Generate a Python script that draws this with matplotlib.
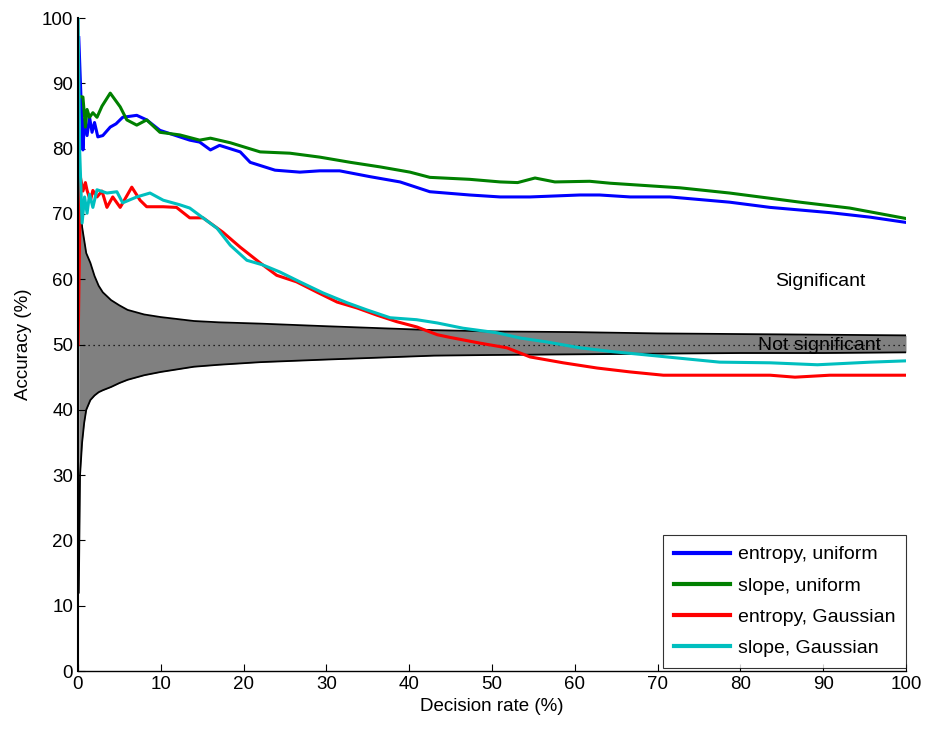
import numpy as np
import matplotlib
matplotlib.use("Agg")
import matplotlib.pyplot as plt

plt.rcParams['font.family'] = ['Liberation Sans', 'DejaVu Sans']

# significance band
band_x = [0.1, 0.25, 0.5, 0.75, 1.0, 1.5, 2.0, 2.5, 3.0, 4.0, 5.0, 6.0, 8.0, 10, 12, 14, 17, 22, 30, 43, 50, 60, 70, 80, 90, 100]
band_hi = [88, 72, 68, 66, 64, 62.5, 60.5, 59, 58, 56.8, 56, 55.3, 54.6, 54.2, 53.9, 53.6, 53.4, 53.2, 52.8, 52.2, 52.0, 51.9,
           51.7, 51.6, 51.5, 51.4]
band_lo = [12, 30, 35, 38, 40, 41.5, 42.2, 42.7, 43.0, 43.5, 44.1, 44.6, 45.3, 45.8, 46.2, 46.6, 46.9, 47.3, 47.7, 48.3, 48.4,
           48.5, 48.6, 48.7, 48.7, 48.8]

# entropy, uniform
ent_uni_x = [0.1, 0.3, 0.6, 0.8, 1.1, 1.4, 1.7, 2.0, 2.4, 3.0, 3.9, 4.6, 5.4, 7.1, 8.3, 9.9, 12.3, 13.5, 14.7, 16.0, 17.1,
             19.6, 20.8, 23.8, 26.8, 29.2, 31.6, 35.3, 38.9, 42.5, 47.3, 51, 54.6, 60.6, 63, 66.7, 71.5, 78.7, 83.6, 90.8, 95.7, 100]
ent_uni_y = [97, 90, 79.8, 84.5, 82, 84.8, 82.5, 84, 81.8, 82, 83.3, 83.8, 84.8, 85.1, 84.4, 82.8, 81.8, 81.3, 81, 79.8, 80.5,
             79.5, 77.9, 76.7, 76.4, 76.6, 76.6, 75.7, 74.9, 73.4, 72.9, 72.6, 72.6, 72.9, 72.9, 72.6, 72.6, 71.8, 71.0, 70.2, 69.5, 68.7]

# slope, uniform
slo_uni_x = [0.2, 0.6, 0.9, 1.1, 1.4, 1.8, 2.3, 2.9, 3.9, 5.1, 5.9, 7.1, 8.3, 9.9, 12.3, 14.7, 16.0, 18.4, 22, 25.6,
             29.2, 32.9, 36.5, 40.1, 42.5, 47.3, 51, 53.1, 55.2, 57.6, 61.8, 64.3, 67.9, 72.7, 78.7, 87.2, 93.2, 100]
slo_uni_y = [88, 87.9, 83.3, 86, 84.8, 85.5, 84.8, 86.5, 88.5, 86.4, 84.4, 83.6, 84.4, 82.5, 82.1, 81.3, 81.6, 80.9, 79.5, 79.3,
             78.7, 77.9, 77.2, 76.4, 75.6, 75.3, 74.9, 74.8, 75.5, 74.9, 75.0, 74.7, 74.4, 74.0, 73.2, 71.8, 70.9, 69.3]

# entropy, Gaussian
ent_gau_x = [0.02, 0.3, 0.6, 0.9, 1.1, 1.5, 1.8, 2.3, 2.9, 3.5, 4.2, 5.1, 6.5, 7.5, 8.3, 10.3, 11.9, 13.5, 15.1, 17.5,
             19.6, 22, 24, 26.4, 28.9, 31.3, 33.7, 36.1, 38.5, 40.9, 43.4, 44.9, 48.6, 51.8, 54.6, 58.6, 62.7, 66.7,
             70.7, 76, 83.6, 86.6, 90.8, 100]
ent_gau_y = [50, 75.6, 73.5, 74.8, 73.6, 72, 73.6, 72.6, 73.5, 71, 72.6, 71, 74.1, 72.1, 71.1, 71.1, 71, 69.4, 69.4, 67.2,
             64.9, 62.5, 60.6, 59.6, 58.0, 56.5, 55.6, 54.5, 53.5, 52.7, 51.5, 51.1, 50.2, 49.5, 48.1, 47.2, 46.4, 45.8,
             45.3, 45.3, 45.3, 45.0, 45.3, 45.3]

# slope, Gaussian
slo_gau_x = [0.02, 0.2, 0.5, 0.8, 1.1, 1.4, 1.8, 2.3, 3.5, 4.7, 5.4, 7.1, 8.7, 10.3, 12.3, 13.5, 15.1, 16.8, 18.4, 20.4,
             22.3, 24.4, 26.8, 29.6, 32.5, 34.9, 37.7, 40.9, 43.4, 46.5, 50.6, 53.4, 56.6, 60.6, 64.6, 68.7, 72.7,
             77.5, 83.6, 89.3, 95.7, 100]
slo_gau_y = [100, 80, 68.6, 72.6, 70.1, 73, 71, 73.7, 73.2, 73.4, 71.7, 72.6, 73.2, 72.1, 71.4, 70.9, 69.4, 67.8, 65.2, 62.9,
             62.2, 61.1, 59.6, 57.9, 56.4, 55.3, 54.1, 53.8, 53.3, 52.5, 51.8, 51.0, 50.4, 49.5, 48.9, 48.4, 47.9,
             47.3, 47.2, 46.9, 47.3, 47.5]

fig = plt.figure(figsize=(9.27, 7.36), dpi=100)
ax = fig.add_axes([0.0841, 0.0883, 0.8932, 0.8872])

ax.fill_between(band_x, band_lo, band_hi, color='#808080', linewidth=0)
ax.plot(band_x, band_hi, color='black', lw=1.3)
ax.plot(band_x, band_lo, color='black', lw=1.3)
ax.plot([0, 100], [50, 50], color='black', lw=0.9, linestyle=(0, (1, 3)))

ax.plot(ent_uni_x, ent_uni_y, color='#0000ff', lw=2.2, label='entropy, uniform')
ax.plot(slo_uni_x, slo_uni_y, color='#008000', lw=2.2, label='slope, uniform')
ax.plot(ent_gau_x, ent_gau_y, color='#ff0000', lw=2.2, label='entropy, Gaussian')
ax.plot(slo_gau_x, slo_gau_y, color='#00bfbf', lw=2.2, label='slope, Gaussian')

ax.text(89.6, 59.7, 'Significant', fontsize=14, ha='center', va='center')
ax.text(89.5, 49.8, 'Not significant', fontsize=14, ha='center', va='center')

ax.set_xlim(0, 100)
ax.set_ylim(0, 100)
ax.set_xticks(np.arange(0, 101, 10))
ax.set_yticks(np.arange(0, 101, 10))
ax.tick_params(direction='in', labelsize=13.5, length=5, width=0.8)
ax.spines['top'].set_visible(False)
ax.spines['right'].set_visible(False)
ax.spines['left'].set_linewidth(1.5)
ax.spines['bottom'].set_linewidth(1.0)
ax.set_xlabel('Decision rate (%)', fontsize=13.5, labelpad=4)
ax.set_ylabel('Accuracy (%)', fontsize=13.5, labelpad=7)

leg = ax.legend(loc='lower right', fontsize=14, handlelength=2.9, handletextpad=0.4, frameon=True, fancybox=False,
                edgecolor='black', borderpad=0.55, labelspacing=0.7, borderaxespad=0,
                bbox_to_anchor=(1.0, 0.005))
leg.get_frame().set_linewidth(0.8)
for line in leg.get_lines():
    line.set_linewidth(3)

fig.savefig('out.png', dpi=100)
